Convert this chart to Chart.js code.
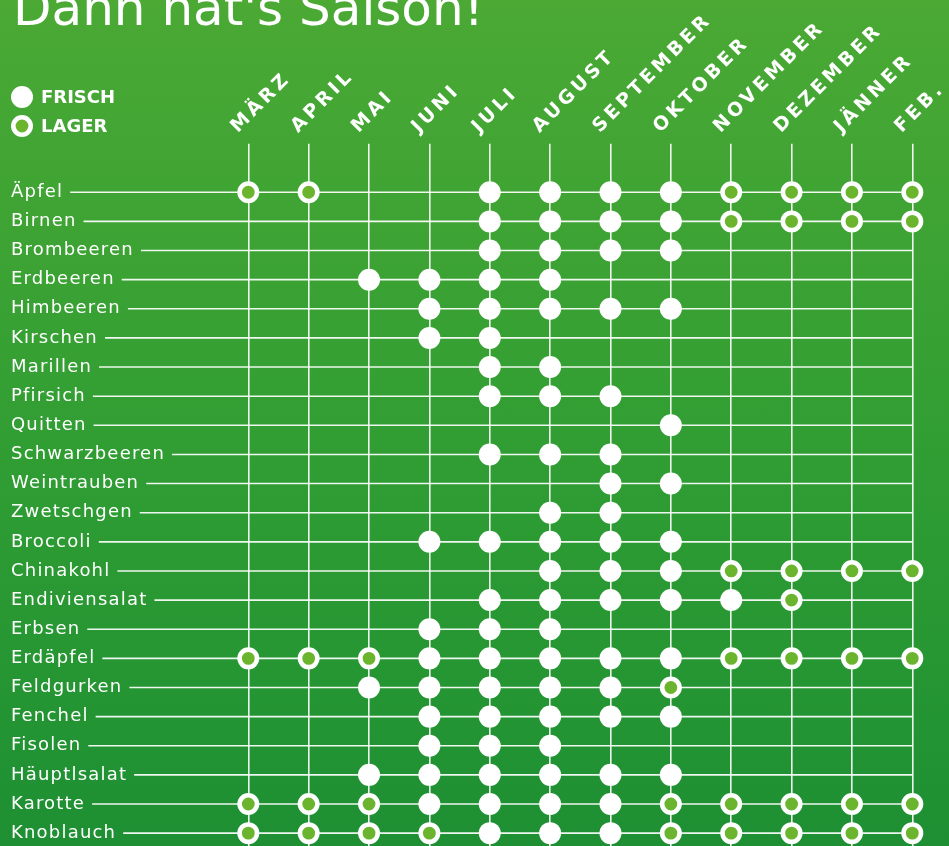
<!DOCTYPE html>
<html lang="de">
<head>
    <meta charset="UTF-8">
    <title>Dann hat's Saison!</title>
    <script src="https://cdn.jsdelivr.net/npm/chart.js"></script>
    <style>
        html, body { margin: 0; padding: 0; overflow: hidden; }
        .chart-container {
            width: 949px;
            height: 861px;
            background: linear-gradient(to bottom, #4ba934 0%, #2f9d33 55%, #1d8f33 100%);
        }
    </style>
</head>
<body>
    <div class="chart-container">
        <canvas id="seasonChart"></canvas>
    </div>

    <script>
        const months = ['MÄRZ', 'APRIL', 'MAI', 'JUNI', 'JULI', 'AUGUST', 'SEPTEMBER',
                        'OKTOBER', 'NOVEMBER', 'DEZEMBER', 'JÄNNER', 'FEB.'];

        const produce = ['Äpfel', 'Birnen', 'Brombeeren', 'Erdbeeren', 'Himbeeren', 'Kirschen',
                         'Marillen', 'Pfirsich', 'Quitten', 'Schwarzbeeren', 'Weintrauben',
                         'Zwetschgen', 'Broccoli', 'Chinakohl', 'Endiviensalat', 'Erbsen',
                         'Erdäpfel', 'Feldgurken', 'Fenchel', 'Fisolen', 'Häuptlsalat',
                         'Karotte', 'Knoblauch'];

        // one letter per month (März .. Feb.): F = frisch, L = lager, . = nichts
        const seasons = [
            'LL..FFFFLLLL', // Äpfel
            '....FFFFLLLL', // Birnen
            '....FFFF....', // Brombeeren
            '..FFFF......', // Erdbeeren
            '...FFFFF....', // Himbeeren
            '...FF.......', // Kirschen
            '....FF......', // Marillen
            '....FFF.....', // Pfirsich
            '.......F....', // Quitten
            '....FFF.....', // Schwarzbeeren
            '......FF....', // Weintrauben
            '.....FF.....', // Zwetschgen
            '...FFFFF....', // Broccoli
            '.....FFFLLLL', // Chinakohl
            '....FFFFFL..', // Endiviensalat
            '...FFF......', // Erbsen
            'LLLFFFFFLLLL', // Erdäpfel
            '..FFFFFL....', // Feldgurken
            '...FFFFF....', // Fenchel
            '...FFF......', // Fisolen
            '..FFFFFF....', // Häuptlsalat
            'LLLFFFFLLLLL', // Karotte
            'LLLLFFFLLLLL'  // Knoblauch
        ];

        const legendLabels = ['FRISCH', 'LAGER'];
        const titleText = "Dann hat's Saison!";

        function pointsFor(code) {
            const pts = [];
            seasons.forEach((row, r) => {
                for (let m = 0; m < months.length; m++) {
                    if (row[m] === code) pts.push({ x: months[m], y: produce[r] });
                }
            });
            return pts;
        }

        const white = '#ffffff';
        const lagerGreen = '#6ab42e';
        const lineColor = 'rgba(255,255,255,0.92)';
        const rowFont = '18px "DejaVu Sans"';
        const rowSpacing = '1.2px';

        // wrap a scale's label drawing so its text gets letter spacing
        function spaced(scale, spacing) {
            if (scale._spaced === spacing) return;
            const orig = Object.getPrototypeOf(scale).drawLabels;
            scale.drawLabels = function (area) {
                const c = this.ctx;
                c.save();
                c.letterSpacing = spacing;
                orig.call(this, area);
                c.restore();
            };
            scale._spaced = spacing;
        }

        const decorPlugin = {
            id: 'decor',
            afterLayout(chart) {
                spaced(chart.scales.x, '3.5px');
                spaced(chart.scales.y, rowSpacing);
            },
            beforeDatasetsDraw(chart) {
                // row lines from the end of each label to the last month
                const { ctx } = chart;
                const xs = chart.scales.x, ys = chart.scales.y;
                const xEnd = xs.getPixelForValue(months.length - 1);
                ctx.save();
                ctx.font = rowFont;
                ctx.letterSpacing = rowSpacing;
                ctx.strokeStyle = lineColor;
                ctx.lineWidth = 1.6;
                produce.forEach((name, i) => {
                    const y = ys.getPixelForValue(i);
                    const x0 = ys.left + ctx.measureText(name).width + 7;
                    ctx.beginPath();
                    ctx.moveTo(x0, y);
                    ctx.lineTo(xEnd, y);
                    ctx.stroke();
                });
                ctx.restore();
            },
            afterDraw(chart) {
                const { ctx } = chart;
                ctx.save();
                // title (cut at the top as in the print)
                ctx.fillStyle = white;
                ctx.font = '50px "DejaVu Sans"';
                ctx.textBaseline = 'alphabetic';
                ctx.fillText(titleText, 13, 25);

                // legend
                ctx.font = 'bold 18px "DejaVu Sans"';
                ctx.textBaseline = 'middle';
                const ys = [97, 126];
                chart.data.datasets.forEach((ds, i) => {
                    ctx.beginPath();
                    ctx.arc(22, ys[i], ds.pointRadius, 0, Math.PI * 2);
                    ctx.fillStyle = ds.pointBackgroundColor;
                    ctx.fill();
                    if (ds.pointBorderWidth) {
                        ctx.lineWidth = ds.pointBorderWidth;
                        ctx.strokeStyle = ds.pointBorderColor;
                        ctx.stroke();
                    }
                    ctx.fillStyle = white;
                    ctx.fillText(legendLabels[i], 41, ys[i] + 1);
                });
                ctx.restore();
            }
        };

        const ctx = document.getElementById('seasonChart').getContext('2d');
        const seasonChart = new Chart(ctx, {
            type: 'scatter',
            data: {
                datasets: [
                    {
                        label: legendLabels[0],
                        data: pointsFor('F'),
                        pointRadius: 11,
                        pointHoverRadius: 11,
                        pointBackgroundColor: white,
                        pointBorderWidth: 0,
                        pointBorderColor: white,
                        clip: false
                    },
                    {
                        label: legendLabels[1],
                        data: pointsFor('L'),
                        pointRadius: 8.7,
                        pointHoverRadius: 8.7,
                        pointBackgroundColor: lagerGreen,
                        pointBorderWidth: 4.6,
                        pointBorderColor: white,
                        clip: false
                    }
                ]
            },
            options: {
                responsive: true,
                maintainAspectRatio: false,
                animation: false,
                events: [],
                layout: {
                    padding: { left: 11, right: 36.7, top: 0, bottom: 0 }
                },
                plugins: {
                    legend: { display: false },
                    tooltip: { enabled: false }
                },
                scales: {
                    x: {
                        type: 'category',
                        labels: months,
                        position: 'top',
                        offset: false,
                        border: { display: false },
                        grid: {
                            color: lineColor,
                            lineWidth: 1.6,
                            drawTicks: true,
                            tickLength: 34,
                            tickColor: lineColor,
                            tickWidth: 1.6
                        },
                        ticks: {
                            color: white,
                            font: { family: '"DejaVu Sans"', size: 19, weight: 'bold' },
                            minRotation: 45,
                            maxRotation: 45,
                            autoSkip: false,
                            padding: 6,
                            labelOffset: 2
                        },
                        afterFit(scale) {
                            scale.height = 177.7;
                            scale.paddingLeft = 0;
                            scale.paddingRight = 0;
                        }
                    },
                    y: {
                        type: 'category',
                        labels: produce,
                        offset: true,
                        border: { display: false },
                        grid: { display: false },
                        ticks: {
                            color: white,
                            font: { family: '"DejaVu Sans"', size: 18, lineHeight: 0.01 },
                            crossAlign: 'far',
                            autoSkip: false
                        },
                        afterFit(scale) {
                            scale.width = 237.3;
                            scale.paddingTop = 0;
                            scale.paddingBottom = 0;
                        }
                    }
                }
            },
            plugins: [decorPlugin]
        });
    </script>
</body>
</html>
